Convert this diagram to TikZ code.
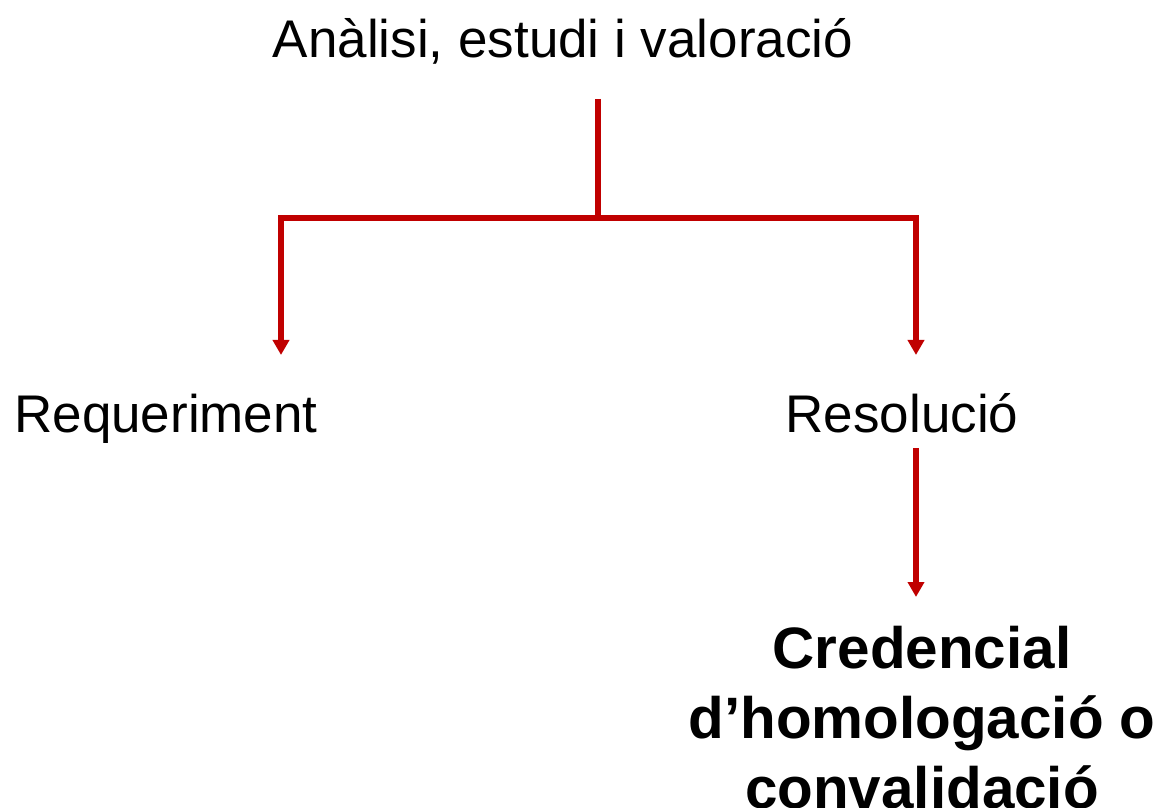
\documentclass[tikz,border=0pt]{standalone}
\usepackage{fontspec}
\setmainfont{Liberation Sans}
\usepackage{xcolor}
\usetikzlibrary{arrows.meta, positioning}
\definecolor{flowred}{RGB}{192,0,0}

\begin{document}
\begin{tikzpicture}[x=0.5pt, y=-0.5pt,
    link/.style={draw=flowred, line width=3pt},
    arrow/.style={link, -{Triangle[width=8pt,length=7.5pt]}},
    label/.style={font=\fontsize{26.5}{30}\selectfont, anchor=base, inner sep=0pt},
    result/.style={font=\bfseries\fontsize{29.2}{35}\selectfont, anchor=base, inner sep=0pt, align=center}]
  % frame
  \useasboundingbox (0,0) rectangle (1164,808);
  % texts
  \node[label] (title) at (563,58) {Anàlisi, estudi i valoració};
  \node[label] (req) at (166,432) {Requeriment};
  \node[label] (res) at (902,432) {Resolució};
  \node[result] (cred) at (922,808) {Credencial\\d’homologació o\\convalidació};
  % connector points
  \coordinate (stem) at (598,99);
  \coordinate (split) at (598,218);
  \coordinate (reqin) at (281,355);
  \coordinate (resin) at (916,355);
  \coordinate (resout) at (916,448);
  \coordinate (credin) at (916,597);
  % connectors
  \draw[link] (stem) -- (split);
  \draw[arrow] (split) -| (reqin);
  \draw[arrow] (split) -| (resin);
  \draw[arrow] (resout) -- (credin);
\end{tikzpicture}
\end{document}
